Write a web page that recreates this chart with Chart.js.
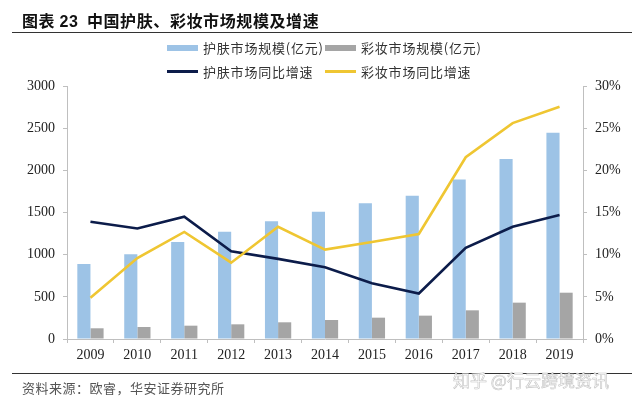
<!DOCTYPE html>
<html lang="zh">
<head>
    <meta charset="UTF-8">
    <title>中国护肤、彩妆市场规模及增速</title>
    <script src="https://cdn.jsdelivr.net/npm/chart.js"></script>
    <style>
        body {
            margin: 0;
            background: #fff;
            font-family: 'Noto Sans CJK SC', sans-serif;
        }
        #wrap {
            position: relative;
            width: 640px;
            height: 405px;
            overflow: hidden;
        }
        #chart {
            position: absolute;
            left: 0;
            top: 0;
        }
        .title {
            position: absolute;
            left: 22px;
            top: 8px;
            font-size: 16px;
            font-weight: 700;
            color: #111;
            letter-spacing: 0.6px;
            white-space: nowrap;
        }
        .title b { font-family: 'Liberation Sans', sans-serif; }
        .rule {
            position: absolute;
            left: 12px;
            width: 620px;
            height: 1px;
            background: #333;
        }
        .legend-item {
            position: absolute;
            display: flex;
            align-items: center;
            font-size: 13px;
            color: #333;
            letter-spacing: 0.8px;
            white-space: nowrap;
        }
        .legend-item span.sw {
            display: inline-block;
            width: 31px;
            margin-right: 5px;
        }
        .source {
            position: absolute;
            left: 22px;
            top: 378px;
            font-size: 13px;
            color: #555;
            letter-spacing: 0.5px;
            white-space: nowrap;
        }
        .mark {
            position: absolute;
            left: 453px;
            top: 367px;
            font-size: 17px;
            color: #fff;
            -webkit-text-stroke: 0.6px #c4c4c4;
            white-space: nowrap;
        }
    </style>
</head>
<body>
    <div id="wrap">
        <canvas id="chart" width="640" height="405"></canvas>
        <div class="title">图表 <b>23</b>&nbsp; 中国护肤、彩妆市场规模及增速</div>
        <div class="rule" style="top:32px"></div>
        <div id="legend"></div>
        <div class="rule" style="top:373px"></div>
        <div class="mark">知乎 @行云跨境资讯</div>
        <div class="source">资料来源：欧睿，华安证券研究所</div>
    </div>

    <script>
        // data
        const years = ['2009', '2010', '2011', '2012', '2013', '2014', '2015', '2016', '2017', '2018', '2019'];
        const skincareSize = [890, 1005, 1150, 1273, 1396, 1510, 1610, 1700, 1890, 2135, 2445];
        const makeupSize = [127, 142, 158, 174, 198, 225, 253, 277, 340, 431, 549];
        const skincareGrowth = [13.9, 13.1, 14.5, 10.4, 9.5, 8.5, 6.6, 5.4, 10.8, 13.3, 14.7];
        const makeupGrowth = [4.9, 9.6, 12.7, 9.05, 13.3, 10.6, 11.5, 12.45, 21.55, 25.6, 27.55];
        const leftTicks = [0, 500, 1000, 1500, 2000, 2500, 3000];
        const rightTicks = [0, 5, 10, 15, 20, 25, 30];

        const serif = "'Liberation Serif', 'Times New Roman', serif";
        const axisColor = '#bfbfbf';

        const datasets = [
            {
                type: 'bar', label: '护肤市场规模(亿元)', data: skincareSize,
                backgroundColor: '#9dc3e6', yAxisID: 'y', order: 2,
                categoryPercentage: 0.56, barPercentage: 1
            },
            {
                type: 'bar', label: '彩妆市场规模(亿元)', data: makeupSize,
                backgroundColor: '#a5a5a5', yAxisID: 'y', order: 2,
                categoryPercentage: 0.56, barPercentage: 1
            },
            {
                type: 'line', label: '护肤市场同比增速', data: skincareGrowth,
                borderColor: '#0c1c4a', backgroundColor: '#0c1c4a', borderWidth: 2.6,
                pointRadius: 0, tension: 0, yAxisID: 'y1', order: 1
            },
            {
                type: 'line', label: '彩妆市场同比增速', data: makeupGrowth,
                borderColor: '#efc632', backgroundColor: '#efc632', borderWidth: 2.6,
                pointRadius: 0, tension: 0, yAxisID: 'y1', order: 0
            }
        ];

        // html legend, 2 x 2
        const legendPos = [[167, 38], [325, 38], [167, 62], [325, 62]];
        const legend = document.getElementById('legend');
        datasets.forEach((ds, i) => {
            const item = document.createElement('div');
            item.className = 'legend-item';
            item.style.left = legendPos[i][0] + 'px';
            item.style.top = legendPos[i][1] + 'px';
            const sw = document.createElement('span');
            sw.className = 'sw';
            sw.style.height = ds.type === 'bar' ? '6px' : '3px';
            sw.style.background = ds.type === 'bar' ? ds.backgroundColor : ds.borderColor;
            item.appendChild(sw);
            item.appendChild(document.createTextNode(ds.label));
            legend.appendChild(item);
        });

        const ctx = document.getElementById('chart').getContext('2d');
        new Chart(ctx, {
            data: { labels: years, datasets: datasets },
            options: {
                responsive: false,
                animation: false,
                layout: { padding: { top: 86, left: 0, right: 0, bottom: 0 } },
                plugins: {
                    legend: { display: false },
                    tooltip: { enabled: false }
                },
                scales: {
                    x: {
                        offset: true,
                        grid: { drawOnChartArea: false, offset: true, color: axisColor, tickLength: 4 },
                        border: { color: axisColor },
                        ticks: { font: { family: serif, size: 14 }, color: '#222', padding: 4, maxRotation: 0 },
                        afterFit: s => { s.height = 66; }
                    },
                    y: {
                        position: 'left',
                        min: 0, max: 3000,
                        afterBuildTicks: s => { s.ticks = leftTicks.map(v => ({ value: v })); },
                        grid: { drawOnChartArea: false, color: axisColor, tickLength: 4 },
                        border: { color: axisColor },
                        ticks: {
                            font: { family: serif, size: 14 }, color: '#222', padding: 8,
                            callback: v => String(v)
                        },
                        afterFit: s => { s.width = 67; }
                    },
                    y1: {
                        position: 'right',
                        min: 0, max: 30,
                        afterBuildTicks: s => { s.ticks = rightTicks.map(v => ({ value: v })); },
                        grid: { drawOnChartArea: false, color: axisColor, tickLength: 4 },
                        border: { color: axisColor },
                        ticks: {
                            font: { family: serif, size: 14 }, color: '#222', padding: 8,
                            callback: v => v + '%'
                        },
                        afterFit: s => { s.width = 57; }
                    }
                }
            }
        });
    </script>
</body>
</html>
